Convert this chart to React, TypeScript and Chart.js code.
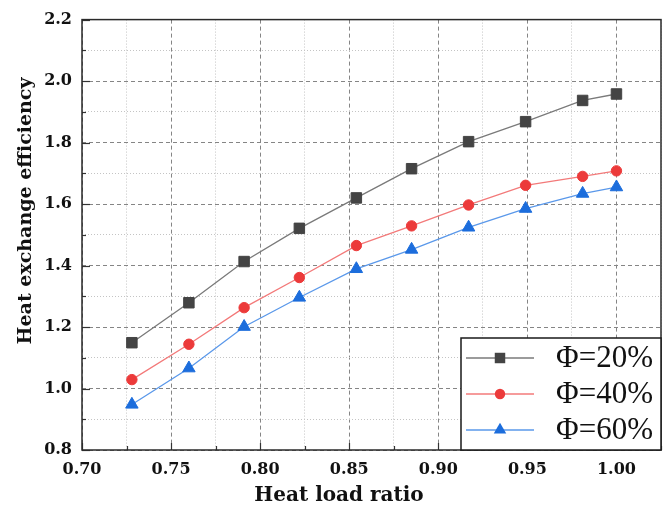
import React, { useEffect, useRef } from "react";
import { Chart, registerables } from "chart.js";

Chart.register(...registerables);

const xValues = [0.728, 0.76, 0.791, 0.822, 0.854, 0.885, 0.917, 0.949, 0.981, 1.0];
const phi20 = [1.149, 1.279, 1.413, 1.521, 1.62, 1.715, 1.803, 1.868, 1.937, 1.958];
const phi40 = [1.029, 1.144, 1.263, 1.361, 1.465, 1.529, 1.597, 1.661, 1.69, 1.708];
const phi60 = [0.948, 1.066, 1.201, 1.296, 1.389, 1.452, 1.524, 1.585, 1.634, 1.655];
const seriesLabels = ["Φ=20%", "Φ=40%", "Φ=60%"];
const xTitle = "Heat load ratio";
const yTitle = "Heat exchange efficiency";

const isMajor = (v: number, per: number) => Math.abs(Math.round(v * per) - v * per) < 1e-6;

const W = 671;
const H = 509;

export default function App() {
  const ref = useRef<HTMLCanvasElement | null>(null);

  useEffect(() => {
    if (!ref.current) return;
    const styles = [
      { line: "#7a7a7a", mark: "#444444", shape: "rect", r: 7.4 },
      { line: "#f37a7a", mark: "#ec3a3a", shape: "circle", r: 5.2 },
      { line: "#5a98ea", mark: "#1c6ddc", shape: "triangle", r: 7.2 },
    ];
    const values = [phi20, phi40, phi60];

    const overlay = {
      id: "overlay",
      afterDraw(chart: any) {
        const { ctx, chartArea: a, scales } = chart;
        const xs = scales.x;
        const ys = scales.y;
        ctx.save();
        // inner ticks
        ctx.strokeStyle = "#333";
        ctx.lineWidth = 1.2;
        ctx.setLineDash([]);
        ys.ticks.forEach((t: any) => {
          const y = Math.round(ys.getPixelForValue(t.value)) + 0.5;
          const len = isMajor(t.value, 5) ? 8 : 4;
          ctx.beginPath();
          ctx.moveTo(a.left, y);
          ctx.lineTo(a.left + len, y);
          ctx.stroke();
        });
        xs.ticks.forEach((t: any) => {
          const x = Math.round(xs.getPixelForValue(t.value)) + 0.5;
          const len = isMajor(t.value, 20) ? 7 : 4;
          ctx.beginPath();
          ctx.moveTo(x, a.bottom);
          ctx.lineTo(x, a.bottom - len);
          ctx.stroke();
        });
        // frame
        ctx.strokeStyle = "#2a2a2a";
        ctx.lineWidth = 1.5;
        ctx.strokeRect(a.left, a.top, a.right - a.left, a.bottom - a.top);

        // legend
        const lx = 461, ly = 338, lw = a.right - 461, lh = a.bottom - 338;
        ctx.fillStyle = "#ffffff";
        ctx.fillRect(lx, ly, lw, lh);
        ctx.strokeStyle = "#1a1a1a";
        ctx.lineWidth = 1.5;
        ctx.strokeRect(lx, ly, lw, lh);
        const rows = [358, 394, 430];
        rows.forEach((ry, i) => {
          const s = styles[i];
          ctx.strokeStyle = s.line;
          ctx.lineWidth = 1.5;
          ctx.beginPath();
          ctx.moveTo(466, ry);
          ctx.lineTo(534, ry);
          ctx.stroke();
          ctx.fillStyle = s.mark;
          ctx.beginPath();
          if (s.shape === "rect") {
            const h = s.r * Math.SQRT1_2;
            ctx.rect(500 - h, ry - h, 2 * h, 2 * h);
          } else if (s.shape === "circle") {
            ctx.arc(500, ry, s.r, 0, Math.PI * 2);
          } else {
            const r = s.r;
            ctx.moveTo(500, ry - r);
            ctx.lineTo(500 + r * Math.sin((2 * Math.PI) / 3), ry - r * Math.cos((2 * Math.PI) / 3));
            ctx.lineTo(500 + r * Math.sin((4 * Math.PI) / 3), ry - r * Math.cos((4 * Math.PI) / 3));
            ctx.closePath();
          }
          ctx.fill();
          ctx.fillStyle = "#111";
          ctx.font = "31px 'Liberation Serif', serif";
          ctx.textAlign = "left";
          ctx.textBaseline = "middle";
          ctx.fillText(seriesLabels[i], 556, ry + 1);
        });

        // axis titles
        ctx.fillStyle = "#111";
        ctx.font = "bold 20px 'DejaVu Serif', serif";
        ctx.textAlign = "center";
        ctx.textBaseline = "middle";
        ctx.fillText(xTitle, 339, 496);
        ctx.save();
        ctx.translate(26, 211);
        ctx.rotate(-Math.PI / 2);
        ctx.font = "bold 19px 'DejaVu Serif', serif";
        ctx.fillText(yTitle, 0, 0);
        ctx.restore();
        ctx.restore();
      },
    };

    const tickFont = { family: "'DejaVu Serif', serif", weight: "bold" as const, size: 16 };

    const chart = new Chart(ref.current, {
      type: "line",
      data: {
        datasets: values.map((vals, i) => ({
          label: seriesLabels[i],
          data: vals.map((v, j) => ({ x: xValues[j], y: v })),
          borderColor: styles[i].line,
          backgroundColor: styles[i].mark,
          pointBackgroundColor: styles[i].mark,
          pointBorderColor: styles[i].mark,
          pointBorderWidth: 1,
          pointStyle: styles[i].shape as any,
          pointRadius: styles[i].r,
          borderWidth: 1.3,
          tension: 0,
          fill: false,
        })),
      },
      options: {
        animation: false,
        responsive: false,
        devicePixelRatio: 1,
        layout: { padding: { top: 16, right: 9, left: 0, bottom: 0 } },
        plugins: {
          legend: { display: false },
          tooltip: { enabled: false },
        },
        scales: {
          x: {
            type: "linear",
            min: 0.7,
            max: 1.025,
            afterFit: (s: any) => {
              s.height = 59;
            },
            ticks: {
              stepSize: 0.025,
              maxTicksLimit: 100,
              autoSkip: false,
              maxRotation: 0,
              padding: 10,
              color: "#111",
              font: tickFont,
              callback: (v: any) => (isMajor(Number(v), 20) ? Number(v).toFixed(2) : ""),
            },
            grid: {
              drawTicks: false,
              tickLength: 0,
              lineWidth: 1,
              color: (c: any) =>
                c.tick && isMajor(c.tick.value, 20) ? "#858585" : "#c4c4c4",
            },
            border: {
              display: false,
              dash: (c: any) =>
                c.tick ? (isMajor(c.tick.value, 20) ? [4, 3] : [1, 2]) : [],
            },
          },
          y: {
            type: "linear",
            min: 0.8,
            max: 2.2,
            afterFit: (s: any) => {
              s.width = 82;
            },
            ticks: {
              stepSize: 0.1,
              maxTicksLimit: 100,
              autoSkip: false,
              padding: 10,
              color: "#111",
              font: tickFont,
              callback: (v: any) => (isMajor(Number(v), 5) ? Number(v).toFixed(1) : ""),
            },
            grid: {
              drawTicks: false,
              tickLength: 0,
              lineWidth: 1,
              color: (c: any) =>
                c.tick && isMajor(c.tick.value, 5) ? "#858585" : "#c4c4c4",
            },
            border: {
              display: false,
              dash: (c: any) =>
                c.tick ? (isMajor(c.tick.value, 5) ? [4, 3] : [1, 2]) : [],
            },
          },
        },
      },
      plugins: [overlay],
    });
    return () => chart.destroy();
  }, []);

  return (
    <div style={{ position: "fixed", left: 0, top: 0, width: W, height: H, background: "#fff" }}>
      <canvas ref={ref} width={W} height={H} style={{ display: "block", width: W, height: H }} />
    </div>
  );
}
